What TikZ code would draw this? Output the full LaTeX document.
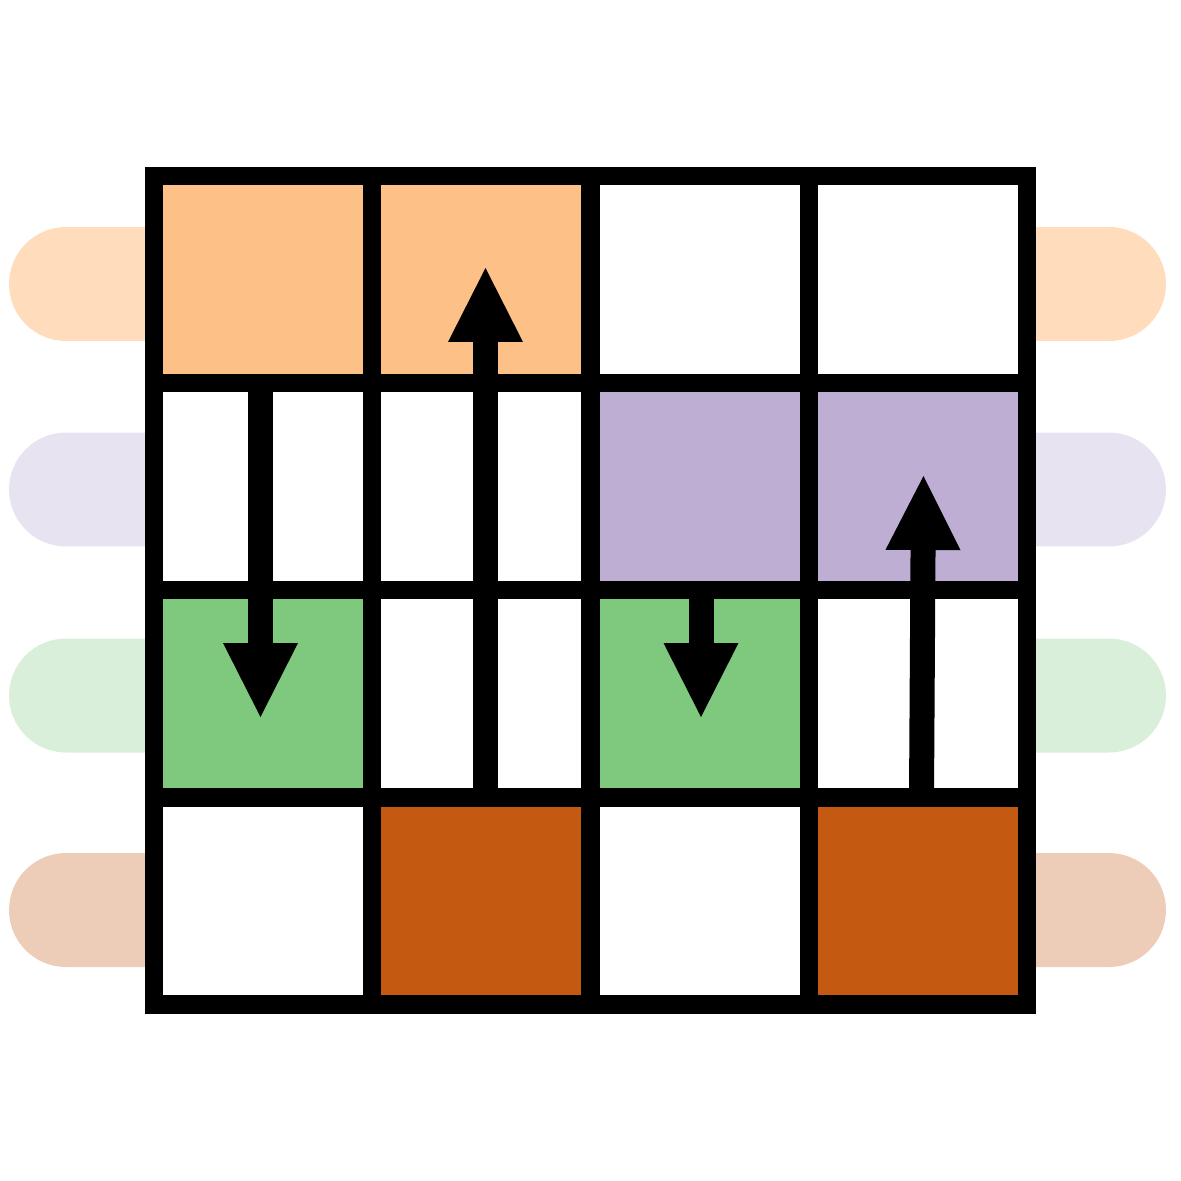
\documentclass[tikz,border=0pt]{standalone}
\usetikzlibrary{arrows.meta}
\definecolor{accorange}{HTML}{FDC086}
\definecolor{accpurple}{HTML}{BEAED4}
\definecolor{accgreen}{HTML}{7FC97F}
\definecolor{accbrown}{HTML}{C45A12}
\begin{document}
\begin{tikzpicture}[
    x=0.02cm, y=-0.02cm,
    cell/.style={rectangle, draw=black, line width=0.37cm, fill=white,
        minimum width=4.366cm, minimum height=4.142cm, inner sep=0pt},
    pill/.style={rectangle, rounded corners=1.14cm, minimum width=5.52cm,
        minimum height=2.28cm, inner sep=0pt},
    move/.style={line width=0.5cm,
        -{Triangle[width=1.5cm, length=1.48cm, line width=0pt]}}
]
    \useasboundingbox (0,0) rectangle (1181,1181);
    % row pills
    \node[pill, fill=accorange!55] (lo) at (147,284) {};
    \node[pill, fill=accpurple!35] (lp) at (147,489.5) {};
    \node[pill, fill=accgreen!30] (lg) at (147,695.5) {};
    \node[pill, fill=accbrown!30] (lb) at (147,910) {};
    \node[pill, fill=accorange!55] (ro) at (1028,284) {};
    \node[pill, fill=accpurple!35] (rp) at (1028,489.5) {};
    \node[pill, fill=accgreen!30] (rg) at (1028,695.5) {};
    \node[pill, fill=accbrown!30] (rb) at (1028,910) {};
    % grid
    \foreach \c/\r/\col in {1/1/accorange, 2/1/accorange, 3/1/white, 4/1/white,
        1/2/white, 2/2/white, 3/2/accpurple, 4/2/accpurple,
        1/3/accgreen, 2/3/white, 3/3/accgreen, 4/3/white,
        1/4/white, 2/4/accbrown, 3/4/white, 4/4/accbrown}
        \node[cell, fill=\col] (c\c\r) at ({154+218.25*(\c-0.5)}, {176+207.1*(\r-0.5)}) {};
    % moves
    \coordinate (s1) at (260.5,383.5);
    \coordinate (t1) at (260.5,717);
    \coordinate (s2) at (485.5,797.5);
    \coordinate (t2) at (485.5,268);
    \coordinate (s3) at (701,591);
    \coordinate (t3) at (701,717);
    \coordinate (s4) at (921.5,797.5);
    \coordinate (t4) at (923.5,476);
    \draw[move] (s1) -- (t1);
    \draw[move] (s2) -- (t2);
    \draw[move] (s3) -- (t3);
    \draw[move] (s4) -- (t4);
\end{tikzpicture}
\end{document}
